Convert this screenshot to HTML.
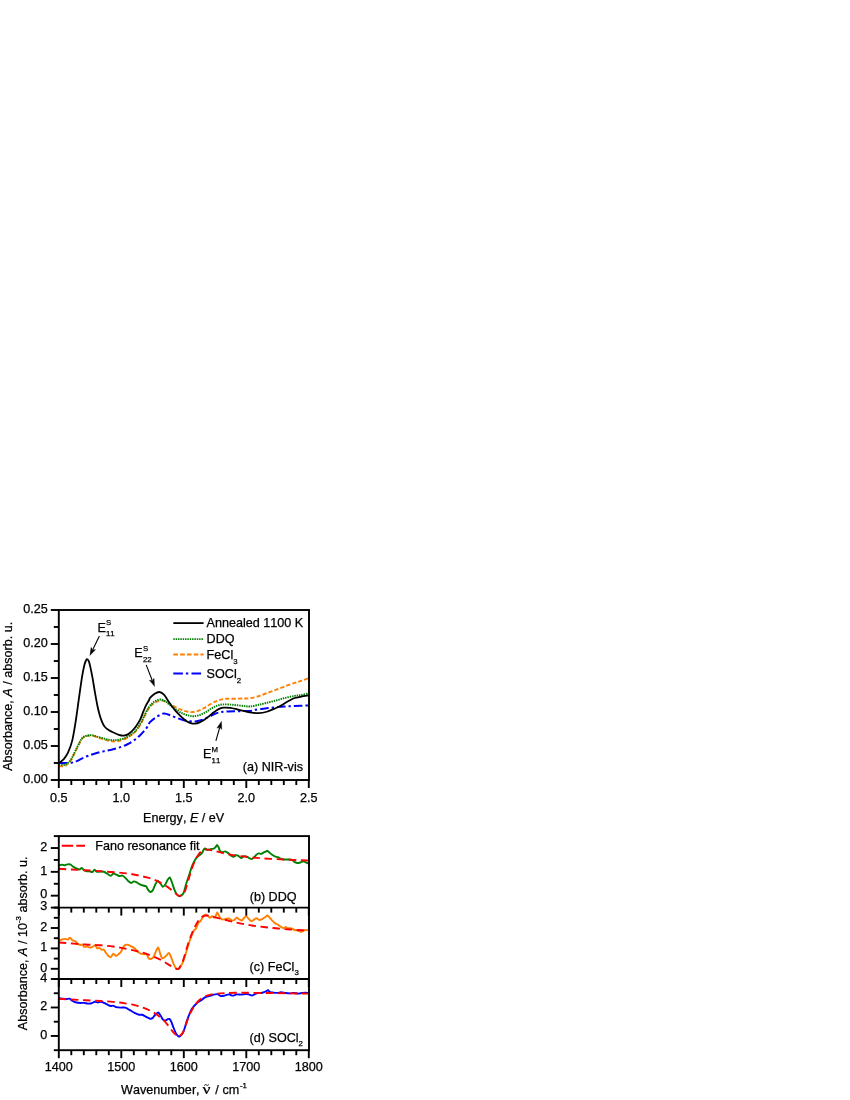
<!DOCTYPE html>
<html><head><meta charset="utf-8"><title>Figure</title>
<style>html,body{margin:0;padding:0;background:#fff;}body{width:850px;height:1100px;position:relative;overflow:hidden;font-family:"Liberation Sans",sans-serif;}</style>
</head><body>
<svg width="850" height="1100" viewBox="0 0 850 1100" style="position:absolute;left:0;top:0;will-change:transform;opacity:0.999">
<rect width="850" height="1100" fill="#fff"/>
<g font-family="Liberation Sans, sans-serif" font-size="12.6" fill="#000" style="font-kerning:none" stroke="#000" stroke-width="0.25" paint-order="stroke">
<defs>
<clipPath id="ct"><rect x="58.8" y="610" width="250.2" height="170"/></clipPath>
<clipPath id="c0"><rect x="58.8" y="836.1" width="250.2" height="71.5"/></clipPath>
<clipPath id="c1"><rect x="58.8" y="907.6" width="250.2" height="71.4"/></clipPath>
<clipPath id="c2"><rect x="58.8" y="979" width="250.2" height="71.2"/></clipPath>
</defs>
<g clip-path="url(#ct)" fill="none" stroke-linejoin="round">
<path d="M59.09,763.00C60.05,763.00 62.78,763.05 64.82,763.00C66.87,762.94 69.46,762.94 71.37,762.67C73.28,762.40 74.65,761.99 76.28,761.36C77.92,760.73 79.29,759.80 81.20,758.90C83.11,758.00 85.29,756.91 87.75,755.96C90.20,755.00 93.20,753.97 95.93,753.17C98.66,752.38 101.39,751.84 104.12,751.21C106.85,750.58 109.58,750.09 112.30,749.41C115.03,748.73 118.04,747.93 120.49,747.12C122.95,746.30 124.86,745.59 127.04,744.50C129.22,743.40 131.41,742.12 133.59,740.57C135.77,739.01 137.96,737.29 140.14,735.16C142.32,733.04 145.04,729.97 146.69,727.80C148.33,725.62 148.46,723.83 150.00,722.10C151.54,720.37 153.93,718.73 155.90,717.40C157.87,716.07 160.42,714.73 161.80,714.10C163.18,713.47 163.02,713.48 164.20,713.60C165.38,713.72 166.93,714.13 168.90,714.80C170.87,715.47 173.63,716.73 176.00,717.60C178.37,718.47 180.73,719.38 183.10,720.00C185.47,720.62 188.23,721.05 190.20,721.30C192.17,721.55 193.13,721.67 194.90,721.50C196.67,721.33 198.63,720.98 200.80,720.30C202.97,719.62 205.53,718.48 207.90,717.40C210.27,716.32 212.83,714.68 215.00,713.80C217.17,712.92 218.73,712.48 220.90,712.10C223.07,711.72 225.23,711.65 228.00,711.50C230.77,711.35 233.83,711.30 237.50,711.20C241.17,711.10 247.03,711.14 250.00,710.90C252.97,710.66 252.79,710.19 255.31,709.79C257.84,709.38 261.86,708.89 265.14,708.48C268.41,708.07 271.69,707.66 274.96,707.33C278.24,707.00 281.51,706.73 284.79,706.51C288.06,706.29 290.65,706.21 294.61,706.02C298.57,705.83 306.21,705.47 308.53,705.37" stroke="#0000ff" stroke-width="2" stroke-dasharray="8.5 3 2.4 3"/>
<path d="M58.80,766.20C59.62,766.22 62.28,766.62 63.70,766.30C65.12,765.98 66.12,765.25 67.30,764.30C68.48,763.35 69.62,762.40 70.80,760.60C71.98,758.80 73.22,755.87 74.40,753.50C75.58,751.13 76.72,748.73 77.90,746.40C79.08,744.07 80.42,741.07 81.50,739.50C82.58,737.93 82.83,737.67 84.40,737.00C85.97,736.33 88.63,735.42 90.90,735.50C93.17,735.58 95.43,736.72 98.00,737.50C100.57,738.28 103.93,739.55 106.30,740.20C108.67,740.85 110.23,741.27 112.20,741.40C114.17,741.53 115.93,741.42 118.10,741.00C120.27,740.58 123.03,739.85 125.20,738.90C127.37,737.95 129.33,736.58 131.10,735.30C132.87,734.02 134.22,733.05 135.80,731.20C137.38,729.35 139.22,726.55 140.60,724.20C141.98,721.85 142.92,719.47 144.10,717.10C145.28,714.73 146.32,712.12 147.70,710.00C149.08,707.88 150.93,705.77 152.40,704.40C153.87,703.03 154.93,702.43 156.50,701.80C158.07,701.17 159.93,700.47 161.80,700.60C163.67,700.73 165.73,701.68 167.70,702.60C169.67,703.52 171.62,705.02 173.60,706.10C175.58,707.18 177.62,708.25 179.60,709.10C181.58,709.95 183.53,710.70 185.50,711.20C187.47,711.70 189.43,712.12 191.40,712.10C193.37,712.08 195.33,711.70 197.30,711.10C199.27,710.50 201.23,709.52 203.20,708.50C205.17,707.48 207.13,706.13 209.10,705.00C211.07,703.87 213.03,702.60 215.00,701.70C216.97,700.80 218.93,700.08 220.90,699.60C222.87,699.12 224.43,698.95 226.80,698.80C229.17,698.65 232.13,698.75 235.10,698.70C238.07,698.65 242.12,698.58 244.60,698.50C247.08,698.42 247.94,698.50 250.00,698.20C252.06,697.90 254.43,697.43 256.95,696.69C259.48,695.94 262.14,694.83 265.14,693.74C268.14,692.65 271.69,691.37 274.96,690.14C278.24,688.91 281.51,687.57 284.79,686.37C288.06,685.17 291.88,683.86 294.61,682.93C297.34,682.01 298.84,681.57 301.16,680.81C303.48,680.04 307.30,678.76 308.53,678.35" stroke="#ff8000" stroke-width="1.9" stroke-dasharray="4.2 2.1"/>
<path d="M58.80,764.30C59.62,764.42 62.28,765.17 63.70,765.00C65.12,764.83 66.12,764.15 67.30,763.30C68.48,762.45 69.62,761.65 70.80,759.90C71.98,758.15 73.22,755.17 74.40,752.80C75.58,750.43 76.72,748.02 77.90,745.70C79.08,743.38 80.42,740.43 81.50,738.90C82.58,737.37 82.83,737.13 84.40,736.50C85.97,735.87 88.63,735.03 90.90,735.10C93.17,735.17 95.43,736.22 98.00,736.90C100.57,737.58 103.93,738.65 106.30,739.20C108.67,739.75 110.23,740.10 112.20,740.20C114.17,740.30 115.93,740.17 118.10,739.80C120.27,739.43 123.03,738.88 125.20,738.00C127.37,737.12 129.33,735.77 131.10,734.50C132.87,733.23 134.22,732.27 135.80,730.40C137.38,728.53 139.22,725.67 140.60,723.30C141.98,720.93 142.92,718.57 144.10,716.20C145.28,713.83 146.32,711.27 147.70,709.10C149.08,706.93 150.93,704.62 152.40,703.20C153.87,701.78 155.13,701.22 156.50,700.60C157.87,699.98 159.12,699.37 160.60,699.50C162.08,699.63 163.62,700.30 165.40,701.40C167.18,702.50 169.33,704.62 171.30,706.10C173.27,707.58 175.23,709.02 177.20,710.30C179.17,711.58 181.13,712.92 183.10,713.80C185.07,714.68 187.23,715.20 189.00,715.60C190.77,716.00 191.93,716.30 193.70,716.20C195.47,716.10 197.62,715.65 199.60,715.00C201.58,714.35 203.62,713.38 205.60,712.30C207.58,711.22 209.53,709.62 211.50,708.50C213.47,707.38 215.43,706.28 217.40,705.60C219.37,704.92 221.13,704.57 223.30,704.40C225.47,704.23 228.03,704.45 230.40,704.60C232.77,704.75 235.13,705.05 237.50,705.30C239.87,705.55 242.52,705.90 244.60,706.10C246.68,706.30 247.94,706.65 250.00,706.50C252.06,706.35 254.43,705.75 256.95,705.20C259.48,704.66 262.14,703.97 265.14,703.24C268.14,702.50 271.69,701.65 274.96,700.78C278.24,699.91 281.51,698.82 284.79,698.00C288.06,697.18 291.88,696.36 294.61,695.87C297.34,695.38 298.84,695.46 301.16,695.05C303.48,694.64 307.30,693.69 308.53,693.41" stroke="#008000" stroke-width="1.9" stroke-dasharray="1.45 0.9"/>
<path d="M59.09,763.00C59.91,762.32 62.49,760.68 63.99,758.90C65.48,757.13 66.72,755.36 68.08,752.36C69.44,749.35 70.94,745.81 72.17,740.89C73.40,735.98 74.36,729.71 75.45,722.88C76.54,716.06 77.63,707.60 78.72,699.96C79.81,692.32 81.04,682.91 82.00,677.04C82.95,671.17 83.77,667.54 84.45,664.76C85.13,661.98 85.68,661.30 86.09,660.34C86.50,659.38 86.51,658.98 86.93,659.03C87.34,659.08 88.02,659.44 88.56,660.67C89.11,661.90 89.52,663.40 90.20,666.40C90.88,669.40 91.84,674.18 92.66,678.68C93.48,683.18 94.29,688.77 95.11,693.41C95.93,698.05 96.75,702.69 97.57,706.51C98.39,710.33 99.21,713.61 100.03,716.34C100.84,719.06 101.66,721.11 102.48,722.88C103.30,724.66 103.85,725.75 104.94,726.98C106.03,728.21 107.53,729.30 109.03,730.25C110.53,731.21 112.30,731.94 113.94,732.71C115.58,733.47 117.22,734.35 118.85,734.84C120.49,735.33 122.26,735.74 123.77,735.65C125.27,735.57 126.49,735.11 127.86,734.35C129.22,733.58 130.59,732.43 131.95,731.07C133.32,729.71 134.68,728.07 136.05,726.16C137.41,724.25 138.91,722.07 140.14,719.61C141.37,717.15 142.46,713.74 143.41,711.42C144.37,709.10 144.91,707.60 145.87,705.69C146.82,703.78 148.46,701.26 149.14,699.96C149.83,698.66 149.07,698.94 150.00,697.90C150.93,696.86 153.12,694.68 154.70,693.70C156.28,692.72 157.92,691.80 159.50,692.00C161.08,692.20 162.63,693.23 164.20,694.90C165.77,696.57 167.33,699.73 168.90,702.00C170.47,704.27 172.22,706.73 173.60,708.50C174.98,710.27 175.82,711.12 177.20,712.60C178.58,714.08 180.33,715.95 181.90,717.40C183.47,718.85 185.02,720.32 186.60,721.30C188.18,722.28 190.02,722.92 191.40,723.30C192.78,723.68 193.53,723.77 194.90,723.60C196.27,723.43 198.02,722.95 199.60,722.30C201.18,721.65 202.82,720.72 204.40,719.70C205.98,718.68 207.53,717.43 209.10,716.20C210.67,714.97 212.22,713.48 213.80,712.30C215.38,711.12 217.02,709.87 218.60,709.10C220.18,708.33 221.33,707.90 223.30,707.70C225.27,707.50 228.03,707.60 230.40,707.90C232.77,708.20 235.13,708.95 237.50,709.50C239.87,710.05 242.52,710.72 244.60,711.20C246.68,711.68 247.67,712.09 250.00,712.40C252.33,712.71 255.79,713.17 258.59,713.06C261.39,712.95 264.05,712.51 266.78,711.75C269.50,710.99 272.51,709.57 274.96,708.48C277.42,707.38 279.33,706.40 281.51,705.20C283.69,704.00 285.88,702.47 288.06,701.27C290.24,700.07 292.43,698.76 294.61,698.00C296.79,697.23 298.84,697.12 301.16,696.69C303.48,696.25 307.30,695.60 308.53,695.38" stroke="#000" stroke-width="1.8"/>
</g>
<g clip-path="url(#c0)" fill="none" stroke-linejoin="round">
<path d="M58.82,865.65C59.18,865.52 61.26,864.61 61.88,864.58C62.51,864.54 63.55,865.36 64.18,865.34C64.80,865.32 66.52,864.53 67.24,864.42C67.95,864.32 69.58,864.14 70.29,864.42C71.01,864.71 72.64,866.41 73.35,866.87C74.07,867.33 75.70,868.10 76.41,868.40C77.13,868.70 78.85,869.52 79.47,869.47C80.10,869.42 81.23,867.85 81.76,867.94C82.30,868.03 83.43,869.84 84.06,870.24C84.68,870.63 86.40,871.16 87.12,871.31C87.83,871.45 89.55,871.37 90.18,871.46C90.80,871.55 91.97,872.27 92.47,872.07C92.97,871.87 93.92,869.81 94.46,869.78C94.99,869.74 96.31,871.57 97.06,871.76C97.81,871.96 100.08,871.46 100.88,871.46C101.69,871.46 103.14,871.46 103.94,871.76C104.74,872.07 106.96,873.58 107.76,874.06C108.57,874.54 110.20,875.95 110.82,875.89C111.45,875.84 112.49,873.76 113.12,873.60C113.74,873.44 115.46,874.23 116.18,874.52C116.89,874.80 118.52,875.92 119.24,876.05C119.95,876.17 121.58,875.37 122.29,875.59C123.01,875.80 124.64,877.22 125.35,877.88C126.07,878.54 127.70,880.66 128.41,881.25C129.13,881.84 130.85,882.91 131.47,882.93C132.10,882.95 133.14,881.45 133.76,881.40C134.39,881.35 136.11,882.11 136.82,882.47C137.54,882.83 139.17,884.10 139.88,884.46C140.60,884.82 142.23,885.32 142.94,885.53C143.65,885.74 145.38,885.76 146.00,886.29C146.62,886.83 147.76,889.46 148.29,890.12C148.83,890.78 150.05,891.95 150.59,891.95C151.12,891.95 152.35,890.96 152.88,890.12C153.42,889.28 154.61,885.87 155.18,884.76C155.75,883.66 157.15,880.76 157.78,880.64C158.40,880.51 159.94,882.98 160.53,883.69C161.12,884.41 162.29,886.63 162.82,886.75C163.36,886.88 164.58,885.53 165.12,884.76C165.65,884.00 166.88,881.03 167.41,880.18C167.95,879.32 169.17,877.16 169.71,877.42C170.24,877.69 171.46,881.08 172.00,882.47C172.54,883.86 173.76,888.01 174.29,889.35C174.83,890.69 176.02,893.14 176.59,893.94C177.16,894.74 178.79,896.00 179.19,896.24C179.59,896.47 179.64,896.11 180.00,895.93C180.36,895.75 181.85,895.12 182.29,894.71C182.74,894.30 183.38,893.66 183.82,892.41C184.27,891.16 185.49,886.05 186.12,884.00C186.74,881.95 188.46,876.96 189.18,874.82C189.89,872.68 191.52,867.43 192.24,865.65C192.95,863.86 194.67,860.60 195.29,859.53C195.92,858.46 197.05,857.01 197.59,856.47C198.12,855.94 199.35,855.39 199.88,854.94C200.42,854.50 201.73,853.27 202.18,852.65C202.62,852.02 203.35,850.07 203.71,849.59C204.06,849.11 204.79,848.48 205.24,848.52C205.68,848.55 206.90,849.82 207.53,849.89C208.15,849.97 209.87,849.29 210.59,849.13C211.30,848.97 213.08,848.73 213.65,848.52C214.22,848.30 215.09,847.70 215.48,847.29C215.87,846.88 216.65,845.00 217.01,845.00C217.37,845.00 218.18,846.58 218.54,847.29C218.90,848.01 219.66,850.53 220.07,851.12C220.48,851.71 221.47,852.31 222.06,852.34C222.65,852.38 224.40,851.33 225.12,851.42C225.83,851.51 227.46,852.61 228.18,853.11C228.89,853.61 230.61,855.28 231.24,855.71C231.86,856.13 232.99,856.83 233.53,856.78C234.06,856.72 235.29,855.37 235.82,855.25C236.36,855.12 237.49,855.38 238.12,855.71C238.74,856.03 240.46,857.95 241.18,858.00C241.89,858.05 243.52,856.31 244.24,856.16C244.95,856.02 246.67,856.53 247.29,856.78C247.92,857.03 249.05,858.04 249.59,858.31C250.12,858.57 251.35,859.20 251.88,859.07C252.42,858.95 253.64,857.75 254.18,857.24C254.71,856.72 255.94,855.08 256.47,854.64C257.01,854.19 258.23,853.50 258.76,853.41C259.30,853.32 260.52,853.96 261.06,853.87C261.59,853.78 262.82,852.91 263.35,852.65C263.89,852.38 265.17,851.79 265.65,851.58C266.13,851.36 267.04,850.69 267.48,850.81C267.93,850.94 268.97,852.22 269.47,852.65C269.97,853.08 271.14,854.04 271.76,854.48C272.39,854.93 274.11,856.15 274.82,856.47C275.54,856.79 277.17,856.97 277.88,857.24C278.60,857.50 280.23,858.50 280.94,858.76C281.65,859.03 283.29,859.44 284.00,859.53C284.71,859.62 286.35,859.53 287.06,859.53C287.77,859.53 289.49,859.44 290.12,859.53C290.74,859.62 291.88,859.99 292.41,860.29C292.95,860.60 294.08,861.81 294.71,862.13C295.33,862.45 297.05,863.03 297.76,863.05C298.48,863.06 300.11,862.48 300.82,862.28C301.54,862.09 303.26,861.33 303.88,861.36C304.51,861.40 305.64,862.36 306.18,862.59C306.71,862.82 308.20,863.26 308.47,863.35" stroke="#008000" stroke-width="1.9"/>
<path d="M58.82,868.71C60.74,868.83 65.83,869.22 70.29,869.47C74.75,869.73 80.49,869.93 85.59,870.24C90.69,870.54 95.78,870.95 100.88,871.31C105.98,871.66 111.59,871.99 116.18,872.38C120.76,872.76 124.84,873.12 128.41,873.60C131.98,874.08 134.53,874.65 137.59,875.28C140.65,875.92 143.96,876.66 146.76,877.42C149.57,878.19 151.86,878.85 154.41,879.87C156.96,880.89 159.76,882.29 162.06,883.54C164.35,884.79 166.14,885.89 168.18,887.36C170.22,888.84 172.64,891.06 174.29,892.41C175.95,893.76 177.17,894.91 178.12,895.47C179.07,896.03 179.18,895.95 180.00,895.78C180.82,895.60 182.17,895.34 183.06,894.40C183.95,893.46 184.59,892.11 185.35,890.12C186.12,888.13 186.88,885.02 187.65,882.47C188.41,879.92 189.18,877.32 189.94,874.82C190.71,872.33 191.47,869.65 192.24,867.48C193.00,865.32 193.76,863.53 194.53,861.82C195.29,860.12 195.93,858.76 196.82,857.24C197.72,855.71 198.74,853.87 199.88,852.65C201.03,851.42 202.43,850.40 203.71,849.89C204.98,849.38 205.87,849.46 207.53,849.59C209.19,849.72 211.35,850.15 213.65,850.66C215.94,851.17 218.49,851.98 221.29,852.65C224.10,853.31 227.16,854.05 230.47,854.64C233.78,855.22 237.61,855.71 241.18,856.16C244.75,856.62 248.31,857.03 251.88,857.39C255.45,857.75 258.76,858.03 262.59,858.31C266.41,858.59 270.75,858.84 274.82,859.07C278.90,859.30 282.98,859.50 287.06,859.68C291.14,859.86 295.73,860.01 299.29,860.14C302.86,860.27 306.94,860.40 308.47,860.45" stroke="#ff0000" stroke-width="1.9" stroke-dasharray="7.5 4.6"/>
</g>
<g clip-path="url(#c1)" fill="none" stroke-linejoin="round">
<path d="M58.82,940.71C59.18,940.56 61.17,939.70 61.88,939.48C62.60,939.27 64.23,938.87 64.94,938.87C65.65,938.87 67.41,939.63 68.00,939.48C68.59,939.34 69.45,937.54 69.99,937.65C70.52,937.75 71.93,939.95 72.59,940.40C73.25,940.85 75.02,941.04 75.65,941.47C76.27,941.90 77.41,943.66 77.94,944.07C78.48,944.48 79.70,944.93 80.24,944.99C80.77,945.04 82.08,944.32 82.53,944.53C82.98,944.74 83.52,946.59 84.06,946.82C84.59,947.06 86.49,946.43 87.12,946.52C87.74,946.61 88.79,947.55 89.41,947.59C90.04,947.62 91.81,947.09 92.47,946.82C93.13,946.56 94.54,945.12 95.07,945.29C95.61,945.47 96.56,948.05 97.06,948.35C97.56,948.66 98.82,947.72 99.35,947.89C99.89,948.07 101.15,949.69 101.65,949.88C102.15,950.08 103.10,949.18 103.64,949.58C104.17,949.97 105.66,952.50 106.24,953.25C106.81,954.00 107.99,955.55 108.53,956.00C109.06,956.45 110.25,957.34 110.82,957.07C111.39,956.80 112.83,953.83 113.42,953.71C114.01,953.58 115.28,955.95 115.87,956.00C116.46,956.05 117.90,954.61 118.47,954.16C119.04,953.72 120.23,952.94 120.76,952.18C121.30,951.41 122.52,948.44 123.06,947.59C123.59,946.73 124.73,945.14 125.35,944.84C125.98,944.53 127.70,944.79 128.41,944.99C129.13,945.18 130.76,946.13 131.47,946.52C132.18,946.91 133.82,947.78 134.53,948.35C135.24,948.92 136.87,950.79 137.59,951.41C138.30,952.04 139.93,953.38 140.65,953.71C141.36,954.03 142.99,954.08 143.71,954.16C144.42,954.25 146.19,953.99 146.76,954.47C147.34,954.95 148.06,957.79 148.60,958.29C149.14,958.79 150.76,958.93 151.35,958.75C151.94,958.57 153.11,957.62 153.65,956.76C154.18,955.91 155.41,952.48 155.94,951.41C156.48,950.34 157.74,947.32 158.24,947.59C158.73,947.86 159.78,952.46 160.22,953.71C160.67,954.95 161.58,957.85 162.06,958.29C162.54,958.74 163.82,957.89 164.35,957.53C164.89,957.17 166.11,955.77 166.65,955.24C167.18,954.70 168.41,952.67 168.94,952.94C169.48,953.21 170.70,956.28 171.24,957.53C171.77,958.78 172.99,962.40 173.53,963.65C174.06,964.90 175.29,967.61 175.82,968.24C176.36,968.86 177.63,969.14 178.12,969.00C178.60,968.86 179.51,967.64 180.00,967.01C180.49,966.39 181.76,964.75 182.29,963.65C182.83,962.54 184.05,959.14 184.59,957.53C185.12,955.92 186.35,951.67 186.88,949.88C187.42,948.10 188.64,943.84 189.18,942.24C189.71,940.63 190.94,937.46 191.47,936.12C192.01,934.78 193.23,931.66 193.76,930.76C194.30,929.87 195.52,929.36 196.06,928.47C196.59,927.58 197.82,924.01 198.35,923.12C198.89,922.23 200.11,921.54 200.65,920.82C201.18,920.11 202.41,917.71 202.94,917.00C203.48,916.29 204.70,914.88 205.24,914.71C205.77,914.53 206.99,915.11 207.53,915.47C208.06,915.83 209.29,917.68 209.82,917.76C210.36,917.85 211.58,916.27 212.12,916.24C212.65,916.20 213.97,917.55 214.41,917.46C214.86,917.37 215.62,916.06 215.94,915.47C216.26,914.88 216.86,912.50 217.16,912.41C217.47,912.32 218.20,914.08 218.54,914.71C218.88,915.33 219.57,917.19 220.07,917.76C220.57,918.34 222.15,919.48 222.82,919.60C223.50,919.72 225.17,918.96 225.88,918.84C226.60,918.71 228.23,918.33 228.94,918.53C229.65,918.73 231.38,920.34 232.00,920.52C232.62,920.70 233.76,920.38 234.29,920.06C234.83,919.74 235.96,917.82 236.59,917.76C237.21,917.71 239.02,919.28 239.65,919.60C240.27,919.92 241.41,920.73 241.94,920.52C242.48,920.30 243.75,918.30 244.24,917.76C244.72,917.23 245.62,915.89 246.07,915.93C246.52,915.97 247.47,917.46 248.06,918.07C248.65,918.68 250.49,920.90 251.12,921.13C251.74,921.36 252.79,920.40 253.41,920.06C254.04,919.72 255.76,918.22 256.47,918.22C257.18,918.22 258.82,919.99 259.53,920.06C260.24,920.13 261.87,919.23 262.59,918.84C263.30,918.44 265.08,917.09 265.65,916.69C266.22,916.30 267.04,915.38 267.48,915.47C267.93,915.56 268.97,916.92 269.47,917.46C269.97,917.99 271.14,919.40 271.76,920.06C272.39,920.72 274.11,922.58 274.82,923.12C275.54,923.65 277.17,924.20 277.88,924.65C278.60,925.09 280.23,926.53 280.94,926.94C281.65,927.35 283.46,928.16 284.00,928.16C284.54,928.16 285.08,926.94 285.53,926.94C285.98,926.94 287.11,927.99 287.82,928.16C288.54,928.34 290.84,928.26 291.65,928.47C292.45,928.68 293.99,929.77 294.71,930.00C295.42,930.23 296.96,930.24 297.76,930.46C298.57,930.67 300.87,931.85 301.59,931.84C302.30,931.82 303.08,930.52 303.88,930.31C304.69,930.09 307.94,930.04 308.47,930.00" stroke="#ff8000" stroke-width="1.9"/>
<path d="M58.82,942.54C60.74,942.67 65.83,942.97 70.29,943.31C74.75,943.64 80.49,944.20 85.59,944.53C90.69,944.86 96.29,944.96 100.88,945.29C105.47,945.63 109.29,946.01 113.12,946.52C116.94,947.03 120.25,947.66 123.82,948.35C127.39,949.04 131.22,949.88 134.53,950.65C137.84,951.41 140.65,952.00 143.71,952.94C146.76,953.88 149.82,955.03 152.88,956.31C155.94,957.58 159.51,959.24 162.06,960.59C164.61,961.94 166.14,963.19 168.18,964.41C170.22,965.64 172.76,967.16 174.29,967.93C175.82,968.69 176.53,968.90 177.35,969.00C178.18,969.10 178.79,968.92 179.24,968.54C179.68,968.16 179.49,967.65 180.00,966.71C180.51,965.76 181.40,965.18 182.29,962.88C183.19,960.59 184.33,956.25 185.35,952.94C186.37,949.63 187.39,946.06 188.41,943.00C189.43,939.94 190.45,937.14 191.47,934.59C192.49,932.04 193.51,929.80 194.53,927.71C195.55,925.62 196.57,923.65 197.59,922.05C198.61,920.44 199.63,919.09 200.65,918.07C201.67,917.05 202.69,916.36 203.71,915.93C204.73,915.50 205.62,915.42 206.76,915.47C207.91,915.52 208.68,915.80 210.59,916.24C212.50,916.67 215.18,917.31 218.24,918.07C221.29,918.84 225.12,919.91 228.94,920.82C232.76,921.74 237.10,922.76 241.18,923.58C245.25,924.39 249.33,925.11 253.41,925.72C257.49,926.33 261.57,926.79 265.65,927.25C269.73,927.71 273.80,928.09 277.88,928.47C281.96,928.85 286.04,929.24 290.12,929.54C294.20,929.85 299.29,930.13 302.35,930.31C305.41,930.48 307.45,930.56 308.47,930.61" stroke="#ff0000" stroke-width="1.9" stroke-dasharray="7.5 4.6"/>
</g>
<g clip-path="url(#c2)" fill="none" stroke-linejoin="round">
<path d="M58.82,997.94C59.27,998.03 61.75,998.58 62.65,998.71C63.54,998.83 65.67,999.01 66.47,999.01C67.27,999.01 68.82,998.47 69.53,998.71C70.24,998.94 71.79,1000.55 72.59,1001.00C73.39,1001.45 75.52,1002.30 76.41,1002.53C77.30,1002.76 79.34,1002.95 80.24,1002.99C81.13,1003.02 83.17,1002.76 84.06,1002.84C84.95,1002.91 86.99,1003.55 87.88,1003.60C88.77,1003.65 90.90,1003.51 91.71,1003.29C92.51,1003.08 94.05,1001.85 94.76,1001.76C95.48,1001.68 97.11,1002.53 97.82,1002.53C98.54,1002.53 100.17,1001.73 100.88,1001.76C101.60,1001.80 103.14,1002.48 103.94,1002.84C104.74,1003.19 106.96,1004.45 107.76,1004.82C108.57,1005.20 110.20,1005.96 110.82,1006.05C111.45,1006.14 112.49,1005.46 113.12,1005.59C113.74,1005.71 115.28,1006.89 116.18,1007.12C117.07,1007.35 119.69,1007.52 120.76,1007.58C121.84,1007.63 124.28,1007.27 125.35,1007.58C126.42,1007.88 128.87,1009.57 129.94,1010.18C131.01,1010.78 133.46,1012.24 134.53,1012.78C135.60,1013.31 138.23,1014.53 139.12,1014.76C140.01,1015.00 141.46,1014.59 142.18,1014.76C142.89,1014.94 144.52,1015.94 145.24,1016.29C145.95,1016.65 147.67,1017.52 148.29,1017.82C148.92,1018.13 150.05,1018.89 150.59,1018.89C151.12,1018.89 152.35,1018.31 152.88,1017.82C153.42,1017.34 154.55,1015.39 155.18,1014.76C155.80,1014.14 157.61,1012.38 158.24,1012.47C158.86,1012.56 159.99,1014.73 160.53,1015.53C161.06,1016.33 162.29,1018.76 162.82,1019.35C163.36,1019.94 164.58,1020.58 165.12,1020.58C165.65,1020.58 166.91,1019.55 167.41,1019.35C167.91,1019.16 168.95,1018.63 169.40,1018.89C169.85,1019.16 170.75,1020.61 171.24,1021.65C171.72,1022.68 172.99,1026.43 173.53,1027.76C174.06,1029.10 175.29,1032.14 175.82,1033.12C176.36,1034.10 177.72,1035.78 178.12,1036.18C178.52,1036.57 179.02,1036.48 179.24,1036.48C179.45,1036.48 179.64,1036.48 180.00,1036.18C180.36,1035.87 181.76,1034.77 182.29,1033.88C182.83,1032.99 184.05,1030.05 184.59,1028.53C185.12,1027.01 186.35,1022.49 186.88,1020.88C187.42,1019.28 188.64,1016.10 189.18,1014.76C189.71,1013.43 190.94,1010.39 191.47,1009.41C192.01,1008.43 193.23,1006.98 193.76,1006.35C194.30,1005.73 195.52,1004.59 196.06,1004.06C196.59,1003.52 197.73,1002.21 198.35,1001.76C198.98,1001.32 200.70,1000.72 201.41,1000.24C202.13,999.75 203.76,998.08 204.47,997.64C205.18,997.19 206.82,996.64 207.53,996.41C208.24,996.18 209.87,995.86 210.59,995.65C211.30,995.43 212.84,994.75 213.65,994.58C214.45,994.40 216.67,993.94 217.47,994.12C218.27,994.30 219.73,995.93 220.53,996.11C221.33,996.28 223.37,995.84 224.35,995.65C225.33,995.45 227.96,994.42 228.94,994.42C229.92,994.42 231.87,995.65 232.76,995.65C233.66,995.65 235.61,994.55 236.59,994.42C237.57,994.30 240.11,994.61 241.18,994.58C242.25,994.54 244.87,994.14 245.76,994.12C246.66,994.10 248.11,994.25 248.82,994.42C249.54,994.60 251.17,995.68 251.88,995.65C252.60,995.61 254.23,994.42 254.94,994.12C255.65,993.81 257.29,993.17 258.00,993.05C258.71,992.92 260.35,993.15 261.06,993.05C261.77,992.94 263.49,992.36 264.12,992.13C264.74,991.90 265.97,991.27 266.41,991.06C266.86,990.84 267.50,990.17 267.94,990.29C268.39,990.42 269.61,991.86 270.24,992.13C270.86,992.40 272.40,992.50 273.29,992.59C274.19,992.68 276.99,992.93 277.88,992.89C278.77,992.86 280.05,992.26 280.94,992.28C281.83,992.30 284.46,992.92 285.53,993.05C286.60,993.17 289.14,993.37 290.12,993.35C291.10,993.34 292.96,992.86 293.94,992.89C294.92,992.93 297.55,993.66 298.53,993.66C299.51,993.66 301.55,993.02 302.35,992.89C303.16,992.77 304.70,992.59 305.41,992.59C306.13,992.59 308.11,992.86 308.47,992.89" stroke="#0000ff" stroke-width="1.9"/>
<path d="M58.82,998.71C60.74,998.83 65.83,999.22 70.29,999.47C74.75,999.73 80.49,999.98 85.59,1000.24C90.69,1000.49 96.29,1000.72 100.88,1001.00C105.47,1001.28 109.29,1001.56 113.12,1001.92C116.94,1002.27 120.25,1002.61 123.82,1003.14C127.39,1003.68 131.22,1004.34 134.53,1005.13C137.84,1005.92 140.90,1006.86 143.71,1007.88C146.51,1008.90 149.06,1010.05 151.35,1011.25C153.65,1012.45 155.43,1013.59 157.47,1015.07C159.51,1016.55 161.80,1018.38 163.59,1020.12C165.37,1021.85 166.65,1023.56 168.18,1025.47C169.71,1027.38 171.36,1029.93 172.76,1031.59C174.17,1033.25 175.51,1034.60 176.59,1035.41C177.67,1036.23 178.67,1036.41 179.24,1036.48C179.80,1036.56 179.36,1036.56 180.00,1035.87C180.64,1035.18 182.04,1034.34 183.06,1032.35C184.08,1030.36 185.10,1026.75 186.12,1023.94C187.14,1021.14 188.16,1017.95 189.18,1015.53C190.20,1013.11 191.22,1011.20 192.24,1009.41C193.25,1007.63 194.27,1006.23 195.29,1004.82C196.31,1003.42 197.21,1002.15 198.35,1001.00C199.50,999.85 200.90,998.78 202.18,997.94C203.45,997.10 204.60,996.51 206.00,995.95C207.40,995.39 208.80,994.96 210.59,994.58C212.37,994.19 214.16,993.91 216.71,993.66C219.25,993.40 221.80,993.20 225.88,993.05C229.96,992.89 236.08,992.77 241.18,992.74C246.27,992.72 251.37,992.84 256.47,992.89C261.57,992.95 266.67,992.97 271.76,993.05C276.86,993.12 280.94,993.25 287.06,993.35C293.18,993.45 304.90,993.61 308.47,993.66" stroke="#ff0000" stroke-width="1.9" stroke-dasharray="7.5 4.6"/>
</g>
<g stroke="#000" stroke-width="1.9" fill="none" stroke-linecap="butt">
<rect x="58.8" y="610" width="250.2" height="170"/>
<rect x="58.8" y="836.1" width="250.2" height="214.1"/>
<line x1="58.8" y1="907.6" x2="309" y2="907.6"/>
<line x1="58.8" y1="979" x2="309" y2="979"/>
<line x1="58.8" y1="780" x2="58.8" y2="788"/>
<line x1="71.3" y1="780" x2="71.3" y2="785"/>
<line x1="83.8" y1="780" x2="83.8" y2="785"/>
<line x1="96.3" y1="780" x2="96.3" y2="785"/>
<line x1="108.8" y1="780" x2="108.8" y2="785"/>
<line x1="121.3" y1="780" x2="121.3" y2="788"/>
<line x1="133.8" y1="780" x2="133.8" y2="785"/>
<line x1="146.3" y1="780" x2="146.3" y2="785"/>
<line x1="158.8" y1="780" x2="158.8" y2="785"/>
<line x1="171.3" y1="780" x2="171.3" y2="785"/>
<line x1="183.8" y1="780" x2="183.8" y2="788"/>
<line x1="196.3" y1="780" x2="196.3" y2="785"/>
<line x1="208.8" y1="780" x2="208.8" y2="785"/>
<line x1="221.3" y1="780" x2="221.3" y2="785"/>
<line x1="233.8" y1="780" x2="233.8" y2="785"/>
<line x1="246.3" y1="780" x2="246.3" y2="788"/>
<line x1="258.8" y1="780" x2="258.8" y2="785"/>
<line x1="271.3" y1="780" x2="271.3" y2="785"/>
<line x1="283.8" y1="780" x2="283.8" y2="785"/>
<line x1="296.3" y1="780" x2="296.3" y2="785"/>
<line x1="308.8" y1="780" x2="308.8" y2="788"/>
<line x1="50.8" y1="780" x2="58.8" y2="780"/>
<line x1="53.8" y1="763" x2="58.8" y2="763"/>
<line x1="50.8" y1="746" x2="58.8" y2="746"/>
<line x1="53.8" y1="729" x2="58.8" y2="729"/>
<line x1="50.8" y1="712" x2="58.8" y2="712"/>
<line x1="53.8" y1="695" x2="58.8" y2="695"/>
<line x1="50.8" y1="678" x2="58.8" y2="678"/>
<line x1="53.8" y1="661" x2="58.8" y2="661"/>
<line x1="50.8" y1="644" x2="58.8" y2="644"/>
<line x1="53.8" y1="627" x2="58.8" y2="627"/>
<line x1="50.8" y1="610" x2="58.8" y2="610"/>
<line x1="58.8" y1="907.6" x2="58.8" y2="915.6"/>
<line x1="71.3" y1="907.6" x2="71.3" y2="912.6"/>
<line x1="83.8" y1="907.6" x2="83.8" y2="912.6"/>
<line x1="96.3" y1="907.6" x2="96.3" y2="912.6"/>
<line x1="108.8" y1="907.6" x2="108.8" y2="912.6"/>
<line x1="121.3" y1="907.6" x2="121.3" y2="915.6"/>
<line x1="133.8" y1="907.6" x2="133.8" y2="912.6"/>
<line x1="146.3" y1="907.6" x2="146.3" y2="912.6"/>
<line x1="158.8" y1="907.6" x2="158.8" y2="912.6"/>
<line x1="171.3" y1="907.6" x2="171.3" y2="912.6"/>
<line x1="183.8" y1="907.6" x2="183.8" y2="915.6"/>
<line x1="196.3" y1="907.6" x2="196.3" y2="912.6"/>
<line x1="208.8" y1="907.6" x2="208.8" y2="912.6"/>
<line x1="221.3" y1="907.6" x2="221.3" y2="912.6"/>
<line x1="233.8" y1="907.6" x2="233.8" y2="912.6"/>
<line x1="246.3" y1="907.6" x2="246.3" y2="915.6"/>
<line x1="258.8" y1="907.6" x2="258.8" y2="912.6"/>
<line x1="271.3" y1="907.6" x2="271.3" y2="912.6"/>
<line x1="283.8" y1="907.6" x2="283.8" y2="912.6"/>
<line x1="296.3" y1="907.6" x2="296.3" y2="912.6"/>
<line x1="308.8" y1="907.6" x2="308.8" y2="915.6"/>
<line x1="58.8" y1="979" x2="58.8" y2="987"/>
<line x1="71.3" y1="979" x2="71.3" y2="984"/>
<line x1="83.8" y1="979" x2="83.8" y2="984"/>
<line x1="96.3" y1="979" x2="96.3" y2="984"/>
<line x1="108.8" y1="979" x2="108.8" y2="984"/>
<line x1="121.3" y1="979" x2="121.3" y2="987"/>
<line x1="133.8" y1="979" x2="133.8" y2="984"/>
<line x1="146.3" y1="979" x2="146.3" y2="984"/>
<line x1="158.8" y1="979" x2="158.8" y2="984"/>
<line x1="171.3" y1="979" x2="171.3" y2="984"/>
<line x1="183.8" y1="979" x2="183.8" y2="987"/>
<line x1="196.3" y1="979" x2="196.3" y2="984"/>
<line x1="208.8" y1="979" x2="208.8" y2="984"/>
<line x1="221.3" y1="979" x2="221.3" y2="984"/>
<line x1="233.8" y1="979" x2="233.8" y2="984"/>
<line x1="246.3" y1="979" x2="246.3" y2="987"/>
<line x1="258.8" y1="979" x2="258.8" y2="984"/>
<line x1="271.3" y1="979" x2="271.3" y2="984"/>
<line x1="283.8" y1="979" x2="283.8" y2="984"/>
<line x1="296.3" y1="979" x2="296.3" y2="984"/>
<line x1="308.8" y1="979" x2="308.8" y2="987"/>
<line x1="58.8" y1="1050.2" x2="58.8" y2="1058.2"/>
<line x1="71.3" y1="1050.2" x2="71.3" y2="1055.2"/>
<line x1="83.8" y1="1050.2" x2="83.8" y2="1055.2"/>
<line x1="96.3" y1="1050.2" x2="96.3" y2="1055.2"/>
<line x1="108.8" y1="1050.2" x2="108.8" y2="1055.2"/>
<line x1="121.3" y1="1050.2" x2="121.3" y2="1058.2"/>
<line x1="133.8" y1="1050.2" x2="133.8" y2="1055.2"/>
<line x1="146.3" y1="1050.2" x2="146.3" y2="1055.2"/>
<line x1="158.8" y1="1050.2" x2="158.8" y2="1055.2"/>
<line x1="171.3" y1="1050.2" x2="171.3" y2="1055.2"/>
<line x1="183.8" y1="1050.2" x2="183.8" y2="1058.2"/>
<line x1="196.3" y1="1050.2" x2="196.3" y2="1055.2"/>
<line x1="208.8" y1="1050.2" x2="208.8" y2="1055.2"/>
<line x1="221.3" y1="1050.2" x2="221.3" y2="1055.2"/>
<line x1="233.8" y1="1050.2" x2="233.8" y2="1055.2"/>
<line x1="246.3" y1="1050.2" x2="246.3" y2="1058.2"/>
<line x1="258.8" y1="1050.2" x2="258.8" y2="1055.2"/>
<line x1="271.3" y1="1050.2" x2="271.3" y2="1055.2"/>
<line x1="283.8" y1="1050.2" x2="283.8" y2="1055.2"/>
<line x1="296.3" y1="1050.2" x2="296.3" y2="1055.2"/>
<line x1="308.8" y1="1050.2" x2="308.8" y2="1058.2"/>
<line x1="53.8" y1="907.60" x2="58.8" y2="907.60"/>
<line x1="50.8" y1="895.68" x2="58.8" y2="895.68"/>
<line x1="53.8" y1="883.77" x2="58.8" y2="883.77"/>
<line x1="50.8" y1="871.85" x2="58.8" y2="871.85"/>
<line x1="53.8" y1="859.93" x2="58.8" y2="859.93"/>
<line x1="50.8" y1="848.02" x2="58.8" y2="848.02"/>
<line x1="53.8" y1="836.10" x2="58.8" y2="836.10"/>
<line x1="53.8" y1="979.00" x2="58.8" y2="979.00"/>
<line x1="50.8" y1="968.80" x2="58.8" y2="968.80"/>
<line x1="53.8" y1="958.60" x2="58.8" y2="958.60"/>
<line x1="50.8" y1="948.40" x2="58.8" y2="948.40"/>
<line x1="53.8" y1="938.20" x2="58.8" y2="938.20"/>
<line x1="50.8" y1="928.00" x2="58.8" y2="928.00"/>
<line x1="53.8" y1="917.80" x2="58.8" y2="917.80"/>
<line x1="50.8" y1="907.60" x2="58.8" y2="907.60"/>
<line x1="53.8" y1="1050.20" x2="58.8" y2="1050.20"/>
<line x1="50.8" y1="1035.96" x2="58.8" y2="1035.96"/>
<line x1="53.8" y1="1021.72" x2="58.8" y2="1021.72"/>
<line x1="50.8" y1="1007.48" x2="58.8" y2="1007.48"/>
<line x1="53.8" y1="993.24" x2="58.8" y2="993.24"/>
<line x1="50.8" y1="979.00" x2="58.8" y2="979.00"/>
</g>
<g text-anchor="end">
<text x="47.7" y="782.80">0.00</text>
<text x="47.7" y="748.80">0.05</text>
<text x="47.7" y="714.80">0.10</text>
<text x="47.7" y="680.80">0.15</text>
<text x="47.7" y="646.80">0.20</text>
<text x="47.7" y="612.80">0.25</text>
<text x="47.3" y="898.48">0</text>
<text x="47.3" y="874.65">1</text>
<text x="47.3" y="850.82">2</text>
<text x="47.3" y="971.60">0</text>
<text x="47.3" y="951.20">1</text>
<text x="47.3" y="930.80">2</text>
<text x="47.3" y="910.40">3</text>
<text x="47.3" y="1038.76">0</text>
<text x="47.3" y="1010.28">2</text>
<text x="47.3" y="981.80">4</text>
</g>
<g text-anchor="middle">
<text x="58.8" y="801.5">0.5</text>
<text x="58.8" y="1071.1">1400</text>
<text x="121.3" y="801.5">1.0</text>
<text x="121.3" y="1071.1">1500</text>
<text x="183.8" y="801.5">1.5</text>
<text x="183.8" y="1071.1">1600</text>
<text x="246.3" y="801.5">2.0</text>
<text x="246.3" y="1071.1">1700</text>
<text x="308.8" y="801.5">2.5</text>
<text x="308.8" y="1071.1">1800</text>
</g>
<text x="183.6" y="822.3" text-anchor="middle">Energy, <tspan font-style="italic">E</tspan> / eV</text>
<text x="121.0" y="1093.7" textLength="78.6" lengthAdjust="spacing">Wavenumber,</text>
<text transform="translate(202.4,1093.7) scale(1.22,1)" font-family="Liberation Serif, serif" font-size="14.5">ν</text>
<text x="215.2" y="1093.7">/</text>
<text x="222.5" y="1093.7">cm</text>
<text x="240.0" y="1088.0" font-size="7.8">-1</text>
<path d="M204.2,1085.5 q1.1,-1.5 2.3,-0.5 q1.2,1 2.3,-0.5" fill="none" stroke="#000" stroke-width="0.9"/>
<text transform="translate(11.8,696.3) rotate(-90)" text-anchor="middle">Absorbance, <tspan font-style="italic">A</tspan> / absorb. u.</text>
<text transform="translate(26.5,943.4) rotate(-90)" text-anchor="middle">Absorbance, <tspan font-style="italic">A</tspan> / 10<tspan font-size="7.8" dy="-5.6">-3</tspan><tspan dy="5.6"> absorb. u.</tspan></text>
<g fill="none">
<line x1="173.3" y1="623.1" x2="203.6" y2="623.1" stroke="#000" stroke-width="1.8"/>
<line x1="173.3" y1="639.1" x2="203.6" y2="639.1" stroke="#008000" stroke-width="1.9" stroke-dasharray="1.45 0.9"/>
<line x1="173.3" y1="654.6" x2="203.6" y2="654.6" stroke="#ff8000" stroke-width="2.0" stroke-dasharray="4.7 2.1"/>
<line x1="173.3" y1="673.6" x2="203.6" y2="673.6" stroke="#0000ff" stroke-width="2" stroke-dasharray="9.6 3 2.4 3.2"/>
</g>
<text x="206.6" y="627.4">Annealed 1100 K</text>
<text x="206.6" y="642.8">DDQ</text>
<text x="206.6" y="659.1">FeCl<tspan font-size="7.8" dy="4.6">3</tspan></text>
<text x="206.6" y="677.9">SOCl<tspan font-size="7.8" dy="4.6">2</tspan></text>
<text x="303" y="771.1" text-anchor="end">(a) NIR-vis</text>
<text x="97.4" y="631.8">E</text>
<text x="106" y="625.3" font-size="7.8">S</text>
<text x="106" y="636.4" font-size="7.8">11</text>
<text x="134.3" y="657.3">E</text>
<text x="142.9" y="650.8" font-size="7.8">S</text>
<text x="142.9" y="661.9" font-size="7.8">22</text>
<text x="203" y="758.2">E</text>
<text x="211.6" y="751.7" font-size="7.8">M</text>
<text x="211.6" y="762.8" font-size="7.8">11</text>
<line x1="99.40" y1="636.10" x2="92.93" y2="649.31" stroke="#000" stroke-width="1.1"/>
<path d="M89.85,655.60 L91.03,647.27 L92.71,649.76 L95.70,649.56 Z" fill="#000"/>
<line x1="146.20" y1="664.90" x2="152.07" y2="680.07" stroke="#000" stroke-width="1.1"/>
<path d="M154.60,686.60 L149.29,680.08 L152.25,680.54 L154.14,678.20 Z" fill="#000"/>
<line x1="215.90" y1="740.90" x2="219.59" y2="727.93" stroke="#000" stroke-width="1.1"/>
<path d="M221.50,721.20 L221.81,729.61 L219.72,727.45 L216.81,728.18 Z" fill="#000"/>
<line x1="61.7" y1="845.7" x2="85" y2="845.7" stroke="#ff0000" stroke-width="2" stroke-dasharray="11.5 3.1"/>
<text x="95.2" y="849.8">Fano resonance fit</text>
<text x="249.7" y="900.5">(b) DDQ</text>
<text x="249.6" y="970.7">(c) FeCl<tspan font-size="7.8" dy="4.6">3</tspan></text>
<text x="249.6" y="1041.7">(d) SOCl<tspan font-size="7.8" dy="4.6">2</tspan></text>
</g></svg>
</body></html>
